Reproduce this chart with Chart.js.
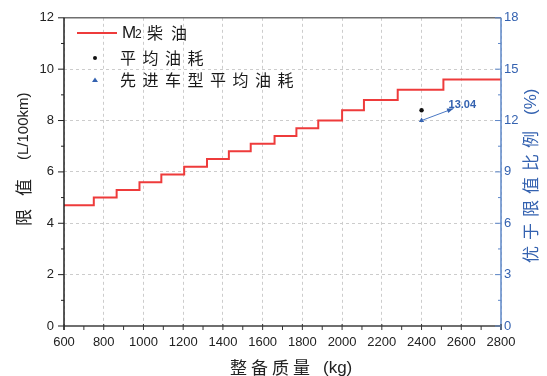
<!DOCTYPE html>
<html>
<head>
<meta charset="utf-8">
<script src="https://cdn.jsdelivr.net/npm/chart.js@4"></script>
<style>
  body { margin: 0; background: #fff; }
  .wrap { width: 547px; height: 376px; }
</style>
</head>
<body>
<div class="wrap"><canvas class="limit-chart"></canvas></div>
<script>
// kerb mass brackets (kg) and limit values (L/100km)
const massBreaks = [600, 750, 865, 980, 1090, 1205, 1320, 1430, 1540, 1660, 1770, 1880, 2000, 2110, 2280, 2510, 2800];
const limitValues = [4.7, 5.0, 5.3, 5.6, 5.9, 6.2, 6.5, 6.8, 7.1, 7.4, 7.7, 8.0, 8.4, 8.8, 9.2, 9.6];
const avgMass = [2400];
const avgConsumption = [8.4];
const advMass = [2400];
const advRatio = [12];
const advLabel = "13.04";
const seriesNames = ["M2柴油", "平均油耗", "先进车型平均油耗"];

const RED = "#ee3b3b";
const BLUE = "#3462b0";
const AXBLUE = "#5d87c9";
const CJK = "'Noto Sans CJK SC'";

const ctx = document.querySelector(".limit-chart");

function seg(c, x1, y1, x2, y2, color, w) {
  c.strokeStyle = color;
  c.lineWidth = w;
  c.beginPath();
  c.moveTo(x1, y1);
  c.lineTo(x2, y2);
  c.stroke();
}

function spaced(c, text, x, y, pitch) {
  for (const ch of text) {
    c.fillText(ch, x, y);
    x += pitch;
  }
}

const decor = {
  id: "decor",
  afterDraw(chart) {
    const c = chart.ctx;
    const a = chart.chartArea;
    const { x, y, y2 } = chart.scales;
    c.save();

    // frame
    seg(c, a.left, a.top, a.right, a.top, "#6f6f6f", 1.5);
    seg(c, a.left, a.bottom, a.right, a.bottom, "#6f6f6f", 2);
    seg(c, a.left, a.top, a.left, a.bottom + 4, "#222", 1.5);
    seg(c, a.right, a.top, a.right, a.bottom + 4, AXBLUE, 1.5);

    // tick marks
    for (let v = 0; v <= 12; v += 1) {
      const p = y.getPixelForValue(v);
      seg(c, a.left - (v % 2 === 0 ? 6 : 3), p, a.left, p, "#222", 1);
    }
    for (let v = 600; v <= 2800; v += 100) {
      const p = x.getPixelForValue(v);
      if (v % 200 === 0) seg(c, p, a.bottom - 2, p, a.bottom + 4, "#333", 1);
      else seg(c, p, a.bottom, p, a.bottom + 4, "#333", 1);
    }
    for (let v = 0; v <= 18; v += 1.5) {
      const p = y2.getPixelForValue(v);
      seg(c, a.right - (v % 3 === 0 ? 6 : 3), p, a.right, p, AXBLUE, 1);
    }

    // axis titles
    c.textBaseline = "middle";
    c.textAlign = "left";
    c.fillStyle = "#222";
    c.font = "17px " + CJK;
    spaced(c, "整备质量", 230, 368, 21);
    c.font = "17px Arial";
    c.fillText("(kg)", 323, 368);

    c.save();
    c.translate(24, 0);
    c.rotate(-Math.PI / 2);
    c.font = "17px " + CJK;
    spaced(c, "限值", -226, 0, 30);
    c.font = "15px Arial";
    c.fillText("(L/100km)", -160, 0);
    c.restore();

    c.save();
    c.translate(531, 0);
    c.rotate(-Math.PI / 2);
    c.fillStyle = BLUE;
    c.font = "17px " + CJK;
    spaced(c, "优于限值比例", -263, 0, 23);
    c.font = "17px Arial";
    c.fillText("(%)", -115, 0);
    c.restore();

    // legend
    seg(c, 77, 33, 117, 33, RED, 2);
    c.fillStyle = "#1a1a1a";
    c.font = "17px Arial";
    c.fillText(seriesNames[0][0], 122, 33);
    c.font = "12px Arial";
    c.fillText(seriesNames[0][1], 135, 35);
    c.font = "16px " + CJK;
    spaced(c, seriesNames[0].slice(2), 147, 33, 24);
    spaced(c, seriesNames[1], 120, 58, 22.5);
    spaced(c, seriesNames[2], 120, 80, 22.5);
    c.beginPath();
    c.arc(95, 58, 2, 0, Math.PI * 2);
    c.fillStyle = "#111";
    c.fill();
    c.beginPath();
    c.moveTo(95, 77.5);
    c.lineTo(98, 82);
    c.lineTo(92, 82);
    c.closePath();
    c.fillStyle = BLUE;
    c.fill();

    // annotation arrow
    const px = x.getPixelForValue(advMass[0]);
    const py = y2.getPixelForValue(advRatio[0]);
    const ex = px + 32, ey = py - 12;
    seg(c, px, py, ex, ey, "#4a78c4", 1);
    const ang = Math.atan2(ey - py, ex - px);
    c.beginPath();
    c.moveTo(ex, ey);
    c.lineTo(ex - 7 * Math.cos(ang - 0.35), ey - 7 * Math.sin(ang - 0.35));
    c.lineTo(ex - 7 * Math.cos(ang + 0.35), ey - 7 * Math.sin(ang + 0.35));
    c.closePath();
    c.fillStyle = BLUE;
    c.fill();
    c.font = "bold 11px Arial";
    c.fillText(advLabel, px + 27, py - 16);

    c.restore();
  },
};

new Chart(ctx, {
  type: "line",
  data: {
    datasets: [
      {
        label: seriesNames[0],
        data: massBreaks.map((m, i) => ({ x: m, y: limitValues[Math.min(i, limitValues.length - 1)] })),
        stepped: "before",
        borderColor: RED,
        borderWidth: 2,
        pointRadius: 0,
        yAxisID: "y",
      },
      {
        label: seriesNames[1],
        data: avgMass.map((m, i) => ({ x: m, y: avgConsumption[i] })),
        showLine: false,
        pointRadius: 2.2,
        pointBackgroundColor: "#111",
        pointBorderWidth: 0,
        yAxisID: "y",
      },
      {
        label: seriesNames[2],
        data: advMass.map((m, i) => ({ x: m, y: advRatio[i] })),
        showLine: false,
        pointStyle: "triangle",
        pointRadius: 3,
        pointBackgroundColor: BLUE,
        pointBorderWidth: 0,
        yAxisID: "y2",
      },
    ],
  },
  options: {
    responsive: true,
    maintainAspectRatio: false,
    animation: false,
    layout: { padding: { top: 17, right: 0, left: 0, bottom: 0 } },
    scales: {
      x: {
        type: "linear",
        min: 600,
        max: 2800,
        afterFit: (s) => { s.height = 50; },
        ticks: {
          stepSize: 200,
          autoSkip: false,
          maxRotation: 0,
          padding: 9,
          color: "#222",
          font: { family: "Arial", size: 13 },
          callback: (v) => String(v),
        },
        grid: { color: "#cccccc", drawTicks: false },
        border: { display: false, dash: [3, 3] },
      },
      y: {
        position: "left",
        min: 0,
        max: 12,
        afterFit: (s) => { s.width = 64; },
        ticks: { stepSize: 2, padding: 10, color: "#222", font: { family: "Arial", size: 13 } },
        grid: { color: "#cccccc", drawTicks: false },
        border: { display: false, dash: [3, 3] },
      },
      y2: {
        position: "right",
        min: 0,
        max: 18,
        afterFit: (s) => { s.width = 46; },
        ticks: { stepSize: 3, padding: 3, color: BLUE, font: { family: "Arial", size: 13 } },
        grid: { display: false, drawTicks: false },
        border: { display: false },
      },
    },
    plugins: {
      legend: { display: false },
      tooltip: { enabled: false },
    },
  },
  plugins: [decor],
});
</script>
</body>
</html>
